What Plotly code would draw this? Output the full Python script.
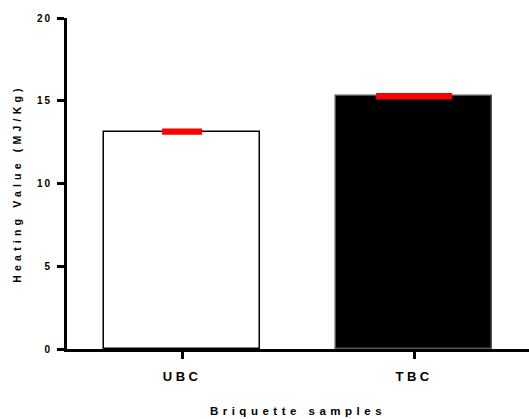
import plotly.graph_objects as go

categories = ["UBC", "TBC"]
values = [13.13, 15.27]
errors = [0.07, 0.07]
fills = ["white", "black"]
outlines = ["black", "#555555"]
cap_half = [20, 38]
y_ticks = [0, 5, 10, 15, 20]

FONT = "Arial, Liberation Sans, sans-serif"

fig = go.Figure()
for c, v, e, f, o, w in zip(categories, values, errors, fills, outlines, cap_half):
    fig.add_trace(go.Bar(
        x=[c], y=[v], width=0.672,
        marker=dict(color=f, line=dict(color=o, width=1.5)),
        error_y=dict(type="data", array=[e], visible=True, color="red", thickness=4, width=w),
        showlegend=False,
    ))

fig.update_layout(
    width=529, height=419,
    margin=dict(l=67, r=0, t=18, b=70),
    plot_bgcolor="white", paper_bgcolor="white",
    font=dict(family=FONT, size=12, color="black", weight="bold"),
    bargap=0,
)
fig.update_xaxes(
    range=[-0.496, 1.495], showline=True, linecolor="black", linewidth=3,
    ticks="outside", ticklen=7, tickwidth=3, tickcolor="black",
    tickfont=dict(family=FONT, size=13, weight="bold"), ticklabelstandoff=6,
    title=dict(text="Briquette samples", font=dict(family=FONT, size=11.5, weight="bold"), standoff=25),
    showgrid=False, zeroline=False,
)
fig.update_yaxes(
    range=[0, 20], tickvals=y_ticks, showline=True, linecolor="black", linewidth=3,
    ticks="outside", ticklen=7, tickwidth=3, tickcolor="black",
    tickfont=dict(family=FONT, size=10, weight="bold"), ticklabelstandoff=3,
    title=dict(text="Heating Value (MJ/Kg)", font=dict(family=FONT, size=10.5, weight="bold"), standoff=18),
    showgrid=False, zeroline=False,
)

post = """
var gd = document.getElementsByClassName('plotly-graph-div')[0];
function sp(){
  function st(sel, ls){
    document.querySelectorAll(sel).forEach(function(e){
      e.style.letterSpacing = ls;
      e.style.fontWeight = '700';
    });
  }
  st('.ytitle', '4.2px');
  st('.xtitle', '4.5px');
  st('.xtick text', '3.5px');
  st('.ytick text', '2px');
}
sp();
gd.on('plotly_afterplot', sp);
"""
fig.write_html("out.html", post_script=post)
